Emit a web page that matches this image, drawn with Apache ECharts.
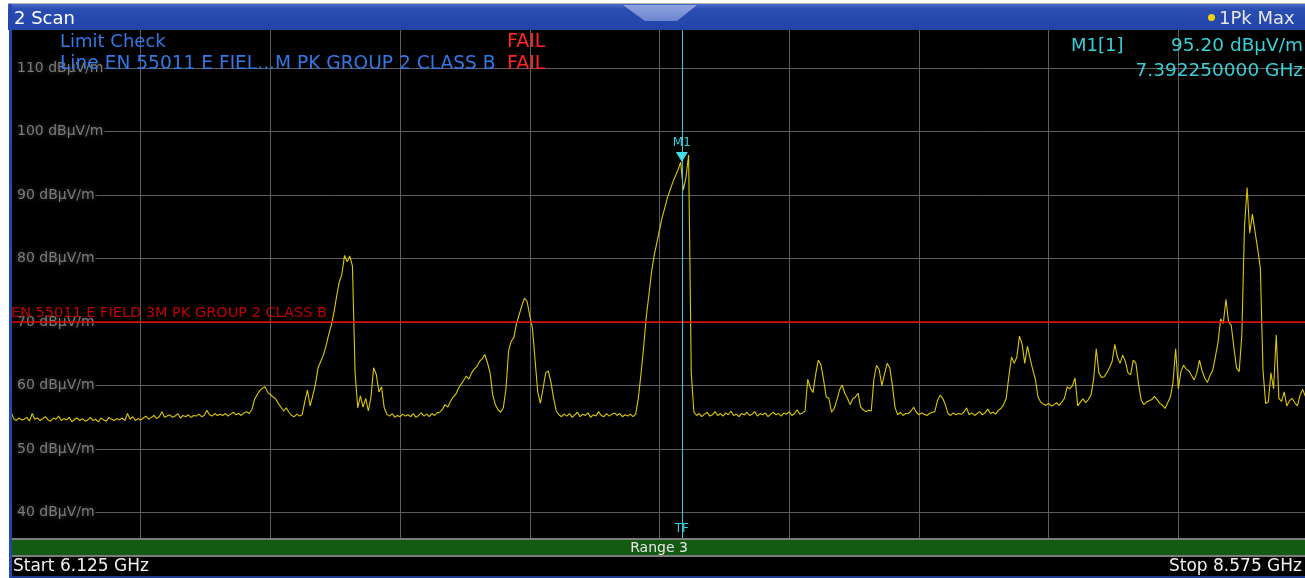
<!DOCTYPE html>
<html><head><meta charset="utf-8">
<script src="https://cdn.jsdelivr.net/npm/echarts@6/dist/echarts.min.js"></script>
<style>html,body{margin:0;padding:0;background:#fff;}#c{width:1305px;height:578px;}</style>
</head><body><div id="c"></div>
<script>
// ---- data ----
const startMHz = 6125;
const stopMHz = 8575;
const divMHz = 245;
const stepMHz = 5;
const levelTicks = [40, 50, 60, 70, 80, 90, 100, 110];
const levelMin = 36, levelMax = 116;
const limitLevel = 70;
const limitName = 'EN 55011 E FIELD 3M PK GROUP 2 CLASS B';
const markerMHz = 7392.25;
const markerLevel = 95.20;
const traceLevel = [
55.9,54.8,54.5,54.9,54.6,54.7,55.0,54.4,55.6,54.7,
54.9,54.5,54.8,55.1,54.6,54.4,54.9,54.7,55.2,54.5,
54.8,54.6,55.0,54.3,54.7,54.9,54.5,54.8,54.4,54.6,
55.0,54.5,54.7,54.3,54.9,54.6,54.4,55.0,54.7,54.5,
54.8,54.6,54.9,54.5,55.6,54.7,55.1,54.5,54.8,54.6,
54.9,55.2,54.7,55.0,55.3,54.8,55.1,55.9,55.0,55.2,
55.4,55.0,55.2,55.6,54.9,55.3,55.1,55.4,55.0,55.3,
55.2,55.5,55.1,55.3,56.1,55.4,55.2,55.6,55.3,55.5,
55.3,55.6,55.2,55.5,55.8,55.4,55.6,55.3,55.7,55.9,
55.6,56.2,57.8,58.6,59.2,59.6,59.8,58.9,58.6,58.2,
57.9,57.2,56.6,56.0,56.5,55.8,55.3,55.1,55.5,55.2,
55.4,57.5,59.3,56.8,58.4,60.2,62.8,63.8,64.8,66.2,
68.0,69.5,71.5,74.0,76.3,77.5,80.5,79.5,80.4,78.8,
62.0,56.5,58.4,56.6,58.0,56.0,58.2,62.8,61.8,59.0,
59.8,56.5,55.5,55.2,55.6,55.0,55.3,55.1,55.5,55.2,
55.4,55.1,55.6,55.0,55.3,55.7,55.2,55.5,55.1,55.6,
55.3,55.7,55.8,56.3,57.0,56.6,57.5,58.2,58.6,59.5,
60.2,60.8,61.5,61.0,62.0,62.6,63.0,63.8,64.2,64.9,
63.6,62.0,58.5,57.0,56.2,55.8,56.5,59.5,65.5,67.0,
67.6,69.8,71.2,72.6,73.8,73.2,71.0,69.0,64.0,59.0,
57.2,59.5,62.0,62.3,60.5,58.0,56.0,55.4,55.1,55.5,
55.2,55.6,55.0,55.4,55.8,55.1,55.5,55.3,55.7,55.0,
55.4,55.2,55.9,55.3,55.1,55.6,55.2,55.5,55.7,
55.3,55.6,55.1,55.4,55.2,55.5,55.1,55.5,58.0,61.8,
66.0,70.8,74.3,77.9,80.5,82.5,84.5,86.5,88.0,89.6,
90.8,92.0,93.0,94.0,95.2,90.8,92.8,96.3,62.0,55.8,
55.3,55.6,55.1,55.5,55.8,55.2,55.4,55.9,55.3,55.6,
55.2,55.7,55.4,56.0,55.3,55.5,55.1,55.6,55.4,55.8,
55.3,55.5,55.9,55.2,55.6,55.4,55.7,55.1,55.5,55.8,
55.4,55.6,55.2,55.7,55.5,55.9,55.3,55.6,56.2,55.5,
55.7,56.0,61.0,59.6,58.9,61.8,64.0,63.3,60.9,58.2,
58.0,55.8,56.4,57.7,59.3,60.1,58.8,58.0,57.0,57.9,
58.2,58.8,56.6,56.2,55.9,56.1,56.0,61.0,63.2,62.5,
60.0,61.8,63.5,62.8,60.0,56.5,55.4,55.8,55.3,55.6,
55.6,56.0,56.6,55.8,55.4,55.7,55.5,55.3,55.6,55.8,
55.9,57.6,58.5,58.0,57.0,55.6,55.3,55.7,55.4,55.6,
55.5,55.8,56.5,55.4,55.7,55.3,55.6,55.9,55.4,55.7,
56.3,55.6,55.8,55.5,56.1,56.4,57.0,58.0,61.5,64.5,
63.5,64.5,67.8,66.5,63.5,66.2,64.3,62.5,61.0,58.2,
57.4,57.1,56.9,57.2,56.8,57.0,57.3,56.9,57.4,58.0,
59.8,59.5,60.0,61.2,56.8,57.4,57.9,57.3,57.8,58.5,
60.9,65.8,62.0,61.3,61.4,62.0,62.8,63.8,66.5,64.5,
63.5,64.8,63.8,62.0,61.7,64.0,63.5,60.2,57.7,57.0,
57.4,57.6,57.8,58.3,57.8,57.2,56.9,56.4,57.3,58.2,
60.5,65.8,59.5,62.2,63.2,62.6,62.3,61.6,60.9,62.0,
64.0,62.3,61.2,60.5,61.6,62.4,64.5,66.8,70.5,69.8,
73.6,70.0,69.5,66.0,62.8,62.2,68.0,85.0,91.2,84.0,
87.0,84.2,81.5,78.5,62.4,57.2,57.4,62.0,59.5,68.0,
58.0,57.5,59.0,56.8,57.6,58.0,57.3,56.8,58.5,59.4,
58.3
];
const traceData = traceLevel.map((v, i) => [startMHz + i * stepMHz, v]);

// ---- chart ----
const FONT = 'DejaVu Sans';
const CYAN = '#38d0d8';
const chart = echarts.init(document.getElementById('c'), null, {renderer: 'canvas', devicePixelRatio: 1});

function txt(x, y, text, fill, size, align) {
  return {type: 'text', x: x, y: y, z: 100,
    style: {text: text, fill: fill, font: size + 'px "' + FONT + '"', fontSize: size, fontFamily: FONT,
      align: align || 'left', textAlign: align || 'left', verticalAlign: 'middle', textVerticalAlign: 'middle'}};
}
function box(x, y, w, h, fill, z) {
  return {type: 'rect', z: z || 90, shape: {x: x, y: y, width: w, height: h}, style: {fill: fill}};
}

const option = {
  backgroundColor: '#ffffff',
  animation: false,
  grid: {left: 11, width: 1297, top: 30, height: 508, show: true, backgroundColor: '#000', borderWidth: 0,
    containLabel: false, outerBoundsMode: 'none'},
  xAxis: {
    type: 'value', min: startMHz, max: stopMHz, interval: divMHz,
    axisLine: {show: false}, axisTick: {show: false}, axisLabel: {show: false},
    splitLine: {show: true, lineStyle: {color: '#5e5e5e', width: 1}}
  },
  yAxis: [{
    type: 'value', min: levelMin, max: levelMax, z: 0,
    axisLine: {show: false},
    axisTick: {show: false, customValues: levelTicks},
    axisLabel: {show: false},
    splitLine: {show: true, lineStyle: {color: '#5e5e5e', width: 1}}
  }, {
    type: 'value', min: levelMin, max: levelMax, position: 'left', z: 1,
    axisLine: {show: false},
    axisTick: {show: false, customValues: levelTicks},
    axisLabel: {show: true, inside: true, customValues: levelTicks, margin: 0,
      color: '#7a7a7a', fontSize: 14, fontFamily: FONT,
      formatter: v => v + ' dBµV/m',
      backgroundColor: '#000', padding: [1, 1, 1, 6],
      textShadowColor: 'rgba(120,120,120,0.6)', textShadowBlur: 4},
    splitLine: {show: false}
  }],
  series: [{
    type: 'line', data: traceData, showSymbol: false, symbol: 'none', silent: true, yAxisIndex: 0,
    lineStyle: {color: '#dcc800', width: 1.1},
    markLine: {
      symbol: 'none', silent: true, animation: false,
      data: [
        {yAxis: limitLevel, lineStyle: {color: '#e80000', width: 1.5, type: 'solid'},
          label: {show: true, position: 'insideStartTop', formatter: limitName, color: '#c00000',
            fontSize: 14.5, fontFamily: FONT, distance: [0, 1]}},
        {xAxis: markerMHz, lineStyle: {color: '#3cc8d6', width: 1, type: 'solid'}, label: {show: false}}
      ]
    },
    markPoint: {
      animation: false, silent: true,
      data: [
        {coord: [markerMHz, markerLevel], symbol: 'path://M0,0 L12,0 L6,10 Z', symbolSize: [12, 10],
          symbolOffset: [0, -5], itemStyle: {color: '#40dde6'},
          label: {show: true, position: 'top', formatter: 'M1', color: CYAN, fontSize: 12, fontFamily: FONT, distance: 3}},
        {coord: [markerMHz, levelMin], symbol: 'rect', symbolSize: 1, itemStyle: {color: 'rgba(0,0,0,0)'},
          label: {show: true, position: 'top', formatter: 'TF', color: CYAN, fontSize: 12, fontFamily: FONT, distance: 3}}
      ]
    }
  }],
  graphic: {elements: [
    box(8, 3, 1297, 1, '#b4b4b4'),
    {type: 'rect', z: 90, shape: {x: 8, y: 4, width: 1297, height: 26},
      style: {fill: new echarts.graphic.LinearGradient(0, 0, 0, 1, [
        {offset: 0, color: '#4b6bc9'}, {offset: 0.2, color: '#2a4db2'}, {offset: 1, color: '#2144aa'}])}},
    {type: 'polygon', z: 95, shape: {points: [[623, 5], [697, 5], [677, 21], [645, 21]]},
      style: {fill: new echarts.graphic.LinearGradient(0, 0, 0, 1, [
        {offset: 0, color: '#8fa3de'}, {offset: 1, color: '#6a84cf'}])}},
    box(9, 4, 3, 574, '#2447ad', 99),
    box(12, 538, 1293, 2, '#7c7c7c'),
    box(12, 540, 1293, 15, '#135a12'),
    box(12, 555, 1293, 2, '#7c7c7c'),
    box(12, 557, 1293, 19, '#000000'),
    box(9, 576, 1296, 2, '#1f3c92'),
    txt(14, 19, '2 Scan', '#ffffff', 18),
    {type: 'circle', z: 100, shape: {cx: 1211.5, cy: 17.5, r: 3.5}, style: {fill: '#f2d400'}},
    txt(1219, 19, '1Pk Max', '#e6e6e6', 18),
    txt(60, 42, 'Limit Check', '#3278e6', 18),
    txt(60, 64, 'Line EN 55011 E FIEL...M PK GROUP 2 CLASS B', '#3278e6', 18.6),
    txt(507, 42, 'FAIL', '#ff2424', 19),
    txt(507, 64, 'FAIL', '#ff2424', 19),
    txt(1071, 46, 'M1[1]', CYAN, 18),
    txt(1303, 46, markerLevel.toFixed(2) + ' dBµV/m', CYAN, 18.5, 'right'),
    txt(1303, 71, (markerMHz / 1000).toFixed(9) + ' GHz', CYAN, 18.5, 'right'),
    txt(659, 548, 'Range 3', '#e8e8e8', 14, 'center'),
    txt(13, 567, 'Start ' + (startMHz / 1000).toFixed(3) + ' GHz', '#f0f0f0', 17),
    txt(1302, 567, 'Stop ' + (stopMHz / 1000).toFixed(3) + ' GHz', '#f0f0f0', 17, 'right')
  ]}
};
chart.setOption(option);
</script></body></html>
